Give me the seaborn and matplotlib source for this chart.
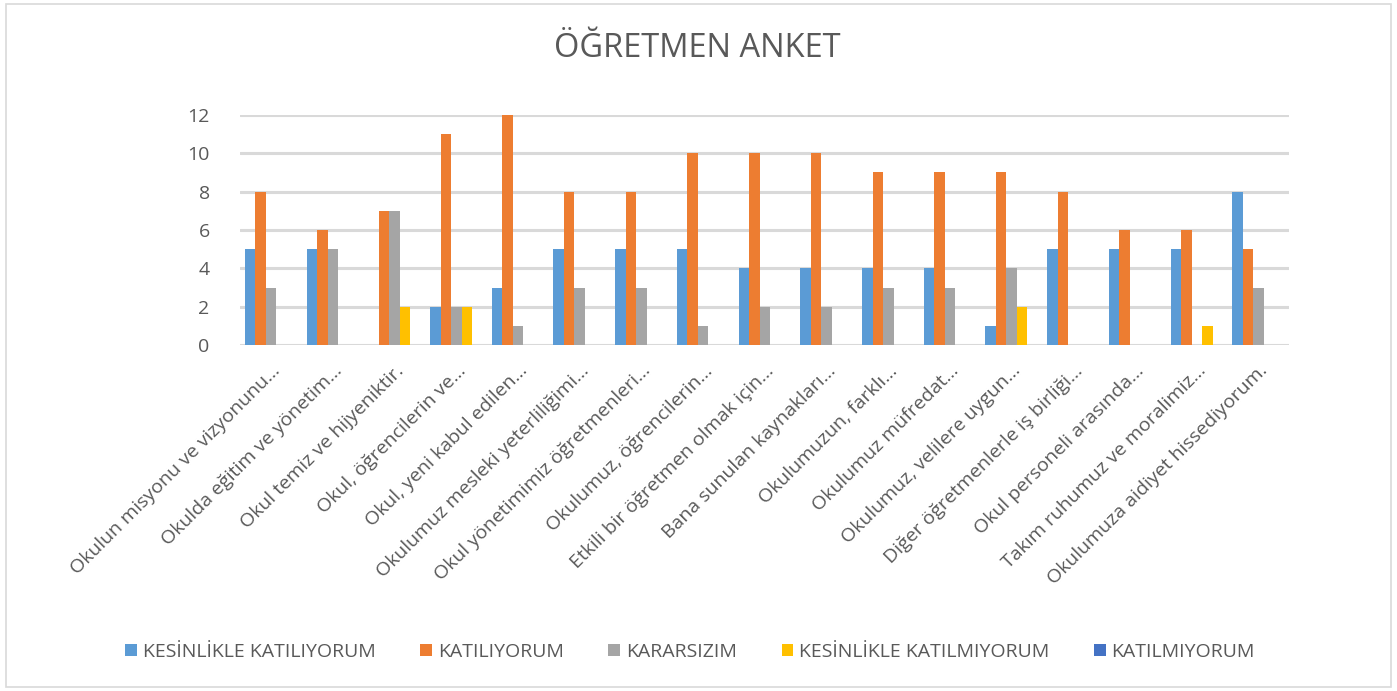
"""OGRETMEN ANKET - clustered bar chart with seaborn."""

import matplotlib

matplotlib.use("Agg")
import matplotlib.pyplot as plt
import pandas as pd
import seaborn as sns
from matplotlib.patches import Rectangle

categories = [
    "Okulun misyonu ve vizyonunu…",
    "Okulda eğitim ve yönetim…",
    "Okul temiz ve hijyeniktir.",
    "Okul, öğrencilerin ve…",
    "Okul, yeni kabul edilen…",
    "Okulumuz mesleki yeterliliğimi…",
    "Okul yönetimimiz öğretmenleri…",
    "Okulumuz, öğrencilerin…",
    "Etkili bir öğretmen olmak için…",
    "Bana sunulan kaynakları…",
    "Okulumuzun, farklı…",
    "Okulumuz müfredat…",
    "Okulumuz, velilere uygun…",
    "Diğer öğretmenlerle iş birliği…",
    "Okul personeli arasında…",
    "Takım ruhumuz ve moralimiz…",
    "Okulumuza aidiyet hissediyorum.",
]

series_names = [
    "KESİNLİKLE KATILIYORUM",
    "KATILIYORUM",
    "KARARSIZIM",
    "KESİNLİKLE KATILMIYORUM",
    "KATILMIYORUM",
]

kesinlikle_katiliyorum = [5, 5, 0, 2, 3, 5, 5, 5, 4, 4, 4, 4, 1, 5, 5, 5, 8]
katiliyorum = [8, 6, 7, 11, 12, 8, 8, 10, 10, 10, 9, 9, 9, 8, 6, 6, 5]
kararsizim = [3, 5, 7, 2, 1, 3, 3, 1, 2, 2, 3, 3, 4, 0, 0, 0, 3]
kesinlikle_katilmiyorum = [0, 0, 2, 2, 0, 0, 0, 0, 0, 0, 0, 0, 2, 0, 0, 1, 0]
katilmiyorum = [0] * 17

colors = ["#5B9BD5", "#ED7D31", "#A5A5A5", "#FFC000", "#4472C4"]
text_color = "#595959"

rows = []
for name, vals in zip(
    series_names,
    [kesinlikle_katiliyorum, katiliyorum, kararsizim, kesinlikle_katilmiyorum, katilmiyorum],
):
    for cat, v in zip(categories, vals):
        rows.append({"Soru": cat, "Yanit": name, "Sayi": v})
df = pd.DataFrame(rows)

sns.set_theme(style="white")
plt.rcParams["font.family"] = ["Open Sans", "DejaVu Sans"]

fig = plt.figure(figsize=(13.97, 6.91), dpi=100)
ax = fig.add_axes([0.172, 0.5007, 0.751, 0.3329])

sns.barplot(
    data=df, x="Soru", y="Sayi", hue="Yanit",
    order=categories, hue_order=series_names, palette=colors,
    saturation=1, width=0.85, linewidth=0, ax=ax, legend=True, zorder=3,
)

ax.set_ylim(0, 12)
ax.set_yticks(range(0, 13, 2))
ax.set_xlim(-0.5, len(categories) - 0.5)
ax.grid(axis="y", color="#D9D9D9", linewidth=2.2, zorder=0)
ax.set_axisbelow(True)
for s in ax.spines.values():
    s.set_visible(False)
ax.set_xlabel("")
ax.set_ylabel("")
ax.tick_params(axis="y", length=0, pad=22, labelsize=14, labelcolor=text_color)
ax.tick_params(axis="x", length=0, pad=12, labelsize=14, labelcolor=text_color)
plt.setp(ax.get_xticklabels(), rotation=45, ha="right", rotation_mode="anchor")

handles, labels = ax.get_legend_handles_labels()
ax.get_legend().remove()
fig.legend(
    handles, labels, loc="center", bbox_to_anchor=(0.494, 0.057), ncol=5,
    frameon=False, fontsize=14, labelcolor=text_color,
    handlelength=0.6, handleheight=0.6, handletextpad=0.3, columnspacing=2.3,
)

fig.text(0.499, 0.93, "ÖĞRETMEN ANKET", ha="center", va="center",
         fontsize=23.5, color=text_color)

fig.patches.append(Rectangle((0.004, 0.006), 0.992, 0.988, transform=fig.transFigure,
                             fill=False, edgecolor="#D9D9D9", linewidth=1.2))

fig.savefig("out.png", dpi=100)
plt.close(fig)
